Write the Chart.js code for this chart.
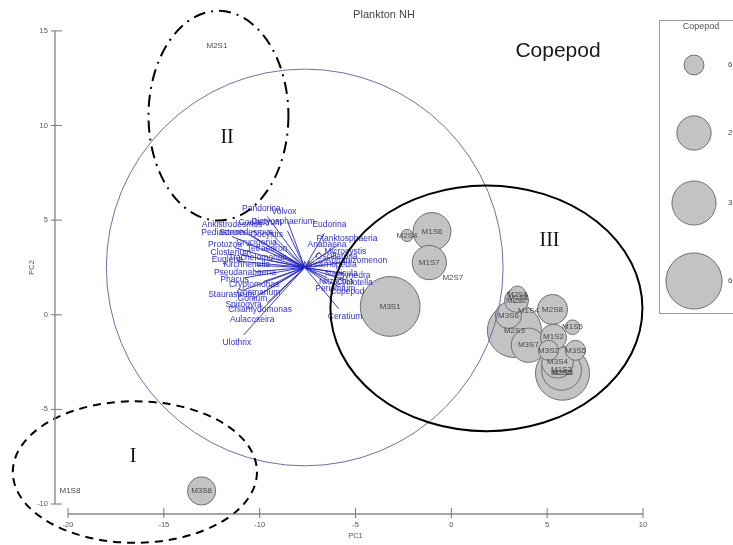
<!DOCTYPE html>
<html>
<head>
<meta charset="utf-8">
<script src="https://cdn.jsdelivr.net/npm/chart.js@4.4.1/dist/chart.umd.min.js"></script>
<style>
  html, body { margin: 0; padding: 0; background: #ffffff; }
  #wrap { width: 733px; height: 545px; position: relative; }
</style>
</head>
<body>
<div id="wrap"><canvas id="c" width="733" height="545"></canvas></div>
<script>
// Site scores on the first two principal components, with copepod abundance
const sites = ['M1S8','M3S8','M2S1','M3S1','M1S6','M2S4','M1S7','M2S7','M2S6','M2S2','M1S1','M3S6',
               'M1S4','M2S3','M2S8','M1S5','M1S2','M3S7','M3S2','M3S5','M3S4','M1S3','M3S3','M2S5'];
const pc1 = [-19.9,-13.03,-12.23,-3.19,-1.01,-2.31,-1.15,0.08,3.45,3.40,3.50,2.98,
             4.02,3.29,5.28,6.32,5.33,4.02,5.07,6.48,5.54,5.75,5.80,5.75];
const pc2 = [-9.30,-9.31,14.21,0.44,4.40,4.19,2.76,1.97,1.08,0.76,0.92,-0.03,
             0.23,-0.83,0.28,-0.66,-1.19,-1.61,-1.88,-1.88,-2.51,-2.93,-3.09,-3.09];
const copepod = [0,13,0,69,25,2,20,0,4,9,0,11,0,55,15,3,11,20,6,6,17,28,55,0];

// Species loadings (arrow tips) of the biplot
const species = ['Pandorina','Volvox','Ankistrodesmus','Coelastrum','Dictyosphaerium','Pediastrum',
  'Scenedesmus','Oocystis','Protozoa','Crucigenia','Tetraedron','Closterium','Euglena','Trachelomonas',
  'Kirchneriella','Eudorina','Planktosphaeria','Anabaena','Microcystis','Oscillatoria','Aphanizomenon',
  'Merismopedia','Navicula','Synedra','Nitzschia','Cyclotella','Peridinium','Copepod','Ceratium',
  'Pseudanabaena','Phacus','Cryptomonas','Cosmarium','Staurastrum','Gonium','Spirogyra',
  'Chlamydomonas','Aulacoseira','Ulothrix'];
const spX = [-9.60,-8.55,-10.99,-9.60,-8.55,-11.44,-10.25,-9.24,-11.31,-9.70,-9.15,-10.99,-11.17,-9.60,
  -10.16,-6.62,-5.88,-6.85,-6.02,-6.48,-5.47,-6.85,-6.25,-5.56,-6.48,-5.56,-6.48,-5.88,-5.88,
  -10.25,-10.80,-9.79,-9.60,-10.99,-9.93,-10.39,-9.60,-10.02,-10.84];
const spY = [5.19,4.95,4.49,4.49,4.44,4.13,4.08,3.90,3.55,3.55,3.27,3.17,2.84,2.89,
  2.61,4.31,3.71,3.34,3.15,2.92,2.78,2.60,2.27,2.17,1.95,1.85,1.66,1.48,0.32,
  2.27,1.95,1.76,1.44,1.25,1.11,0.83,0.64,0.13,-1.07];
const biplotOrigin = [-7.65, 2.5];
const equilibriumRadius = 10.35;

// Axis ticks
const xTicks = [-20, -15, -10, -5, 0, 5, 10];
const yTicks = [15, 10, 5, 0, -5, -10];

// Bubble size legend
const legendValues = [6, 20, 35, 60];
const legendLabels = ['6', '20', '35', '60'];

// Group outlines: centre (PC1, PC2) and semi-axes, with group names
const groupNames = ['I', 'II', 'III'];
const groupCx = [-16.51, -12.15, 1.83];
const groupCy = [-8.31, 10.52, 0.34];
const groupRx = [6.37, 3.65, 8.14];
const groupRy = [3.74, 5.54, 6.49];
const groupLabelX = [-16.6, -11.7, 5.12];
const groupLabelY = [-7.5, 9.36, 3.92];

const FONT = '"Liberation Sans", Arial, Helvetica, sans-serif';
const bubbleRadius = v => 4.45 * Math.pow(v, 0.45);

const order = sites.map((_, i) => i).filter(i => copepod[i] > 0)
  .sort((a, b) => copepod[b] - copepod[a]);

const overlay = {
  id: 'overlay',
  afterDatasetsDraw(chart) {
    const { ctx } = chart;
    const xs = chart.scales.x, ys = chart.scales.y;
    const px = v => xs.getPixelForValue(v);
    const py = v => ys.getPixelForValue(v);
    const ux = Math.abs(px(1) - px(0)), uy = Math.abs(py(1) - py(0));
    ctx.save();

    // site names
    ctx.font = '8px ' + FONT;
    ctx.fillStyle = '#4a4a4a';
    ctx.textAlign = 'center';
    ctx.textBaseline = 'middle';
    sites.forEach((s, i) => ctx.fillText(s, px(pc1[i]), py(pc2[i])));

    // equilibrium circle
    const ox = px(biplotOrigin[0]), oy = py(biplotOrigin[1]);
    ctx.beginPath();
    ctx.arc(ox, oy, equilibriumRadius * ux, 0, Math.PI * 2);
    ctx.strokeStyle = '#6e6eab';
    ctx.lineWidth = 1;
    ctx.stroke();

    // species arrows
    ctx.strokeStyle = 'rgba(35,35,205,0.9)';
    ctx.lineWidth = 1;
    species.forEach((s, i) => {
      ctx.beginPath();
      ctx.moveTo(ox, oy);
      ctx.lineTo(px(spX[i]), py(spY[i]));
      ctx.stroke();
    });
    ctx.fillStyle = 'rgba(38,38,200,0.95)';
    ctx.font = '8.5px ' + FONT;
    species.forEach((s, i) => {
      const tx = px(spX[i]), ty = py(spY[i]);
      const dx = tx - ox, dy = ty - oy;
      const len = Math.hypot(dx, dy) || 1;
      ctx.fillText(s, tx + dx / len * 10, ty + dy / len * 10);
    });

    // group outlines
    ctx.strokeStyle = '#000';
    ctx.lineWidth = 2;
    const dashes = [[8, 6], [12, 6, 2, 6], []];
    groupNames.forEach((g, i) => {
      ctx.setLineDash(dashes[i]);
      ctx.beginPath();
      ctx.ellipse(px(groupCx[i]), py(groupCy[i]), groupRx[i] * ux, groupRy[i] * uy, 0, 0, Math.PI * 2);
      ctx.stroke();
    });
    ctx.setLineDash([]);
    ctx.fillStyle = '#111';
    ctx.font = '20px "Liberation Serif", "DejaVu Serif", serif';
    groupNames.forEach((g, i) => ctx.fillText(g, px(groupLabelX[i]), py(groupLabelY[i])));

    // axes
    const axisX = px(-20.68), axisY = py(-10.53);
    ctx.strokeStyle = '#8a8a8a';
    ctx.lineWidth = 1.4;
    ctx.beginPath();
    ctx.moveTo(axisX, py(yTicks[0]));
    ctx.lineTo(axisX, py(yTicks[yTicks.length - 1]));
    ctx.moveTo(px(xTicks[0]), axisY);
    ctx.lineTo(px(xTicks[xTicks.length - 1]), axisY);
    ctx.stroke();
    ctx.lineWidth = 1;
    ctx.strokeStyle = '#777';
    ctx.beginPath();
    yTicks.forEach(t => { ctx.moveTo(axisX - 4, py(t)); ctx.lineTo(axisX + 7, py(t)); });
    xTicks.forEach(t => { ctx.moveTo(px(t), axisY - 6); ctx.lineTo(px(t), axisY + 4); });
    ctx.stroke();
    ctx.fillStyle = '#555';
    ctx.font = '7.5px ' + FONT;
    ctx.textAlign = 'right';
    yTicks.forEach(t => ctx.fillText(String(t), axisX - 7, py(t)));
    ctx.textAlign = 'center';
    xTicks.forEach(t => ctx.fillText(String(t), px(t), axisY + 11));
    ctx.fillText('PC1', (px(xTicks[0]) + px(xTicks[xTicks.length - 1])) / 2, axisY + 22);
    ctx.save();
    ctx.translate(axisX - 23, (py(yTicks[0]) + py(yTicks[yTicks.length - 1])) / 2);
    ctx.rotate(-Math.PI / 2);
    ctx.fillText('PC2', 0, 0);
    ctx.restore();

    // titles
    ctx.fillStyle = '#444';
    ctx.font = '11px ' + FONT;
    ctx.fillText('Plankton NH', 384, 15);
    ctx.fillStyle = '#1a1a1a';
    ctx.font = '21px ' + FONT;
    ctx.fillText('Copepod', 558, 51);

    // size legend
    ctx.strokeStyle = '#9a9a9a';
    ctx.lineWidth = 1;
    ctx.strokeRect(659.5, 20.5, 90, 293);
    ctx.fillStyle = '#555';
    ctx.font = '9px ' + FONT;
    ctx.fillText('Copepod', 701, 27);
    const legendY = [65, 133, 203, 281];
    legendValues.forEach((v, i) => {
      ctx.beginPath();
      ctx.arc(694, legendY[i], bubbleRadius(v), 0, Math.PI * 2);
      ctx.fillStyle = '#c3c3c3';
      ctx.fill();
      ctx.strokeStyle = '#6e6e6e';
      ctx.stroke();
      ctx.fillStyle = '#444';
      ctx.font = '8px ' + FONT;
      ctx.textAlign = 'left';
      ctx.fillText(legendLabels[i], 728, legendY[i]);
      ctx.textAlign = 'center';
    });

    ctx.restore();
  }
};

new Chart(document.getElementById('c'), {
  type: 'bubble',
  data: {
    datasets: [{
      label: 'Copepod',
      data: order.map(i => ({ x: pc1[i], y: pc2[i], r: bubbleRadius(copepod[i]) })),
      backgroundColor: '#c3c3c3',
      borderColor: '#6e6e6e',
      borderWidth: 1,
      clip: false
    }]
  },
  options: {
    responsive: false,
    animation: false,
    devicePixelRatio: 1,
    layout: { padding: { left: 68, right: 90, top: 30, bottom: 41 } },
    scales: {
      x: { type: 'linear', min: -20, max: 10, display: false },
      y: { type: 'linear', min: -10, max: 15, display: false }
    },
    plugins: {
      legend: { display: false },
      title: { display: false },
      tooltip: { enabled: false }
    },
    events: []
  },
  plugins: [overlay]
});
</script>
</body>
</html>
